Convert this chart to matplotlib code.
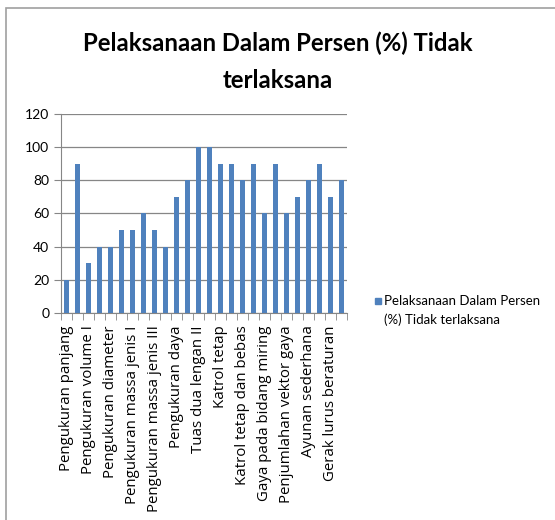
import matplotlib.pyplot as plt
from matplotlib.patches import Rectangle

plt.rcParams['font.family'] = ['Lato', 'DejaVu Sans']

# 26 categories, only every other name is shown on the axis
shown_labels = ["Pengukuran panjang", "Pengukuran volume I", "Pengukuran diameter",
                "Pengukuran massa jenis I", "Pengukuran massa jenis III", "Pengukuran daya",
                "Tuas dua lengan II", "Katrol tetap", "Katrol tetap dan bebas",
                "Gaya pada bidang miring", "Penjumlahan vektor gaya", "Ayunan sederhana",
                "Gerak lurus beraturan"]
values = [20, 90, 30, 40, 40, 50, 50, 60, 50, 40, 70, 80, 100,
          100, 90, 90, 80, 90, 60, 90, 60, 70, 80, 90, 70, 80]
series_name = "Pelaksanaan Dalam Persen\n(%) Tidak terlaksana"
title = "Pelaksanaan Dalam Persen (%) Tidak\nterlaksana"

bar_color = "#4F81BD"
axis_gray = "#868686"

fig = plt.figure(figsize=(5.55, 5.2), dpi=100)
ax = fig.add_axes([0.110, 0.398, 0.515, 0.383])

x = list(range(len(values)))
ax.bar(x, values, width=0.45, color=bar_color, zorder=3)

ax.set_xlim(-0.5, len(values) - 0.5)
ax.set_ylim(0, 120)
ax.set_yticks(range(0, 121, 20))
ax.yaxis.grid(True, color=axis_gray, linewidth=0.9, zorder=0)

ax.set_xticks(x[::2])
ax.set_xticklabels(shown_labels, rotation=90, fontsize=10.8, family=["Open Sans", "DejaVu Sans"])
ax.set_xticks([i - 0.5 for i in range(len(values) + 1)], minor=True)
ax.tick_params(axis="x", which="major", length=0, pad=9)
ax.tick_params(axis="x", which="minor", length=5, color=axis_gray, direction="out")
ax.tick_params(axis="y", length=5, color=axis_gray, labelsize=10)

for side in ["top", "right"]:
    ax.spines[side].set_visible(False)
for side in ["left", "bottom"]:
    ax.spines[side].set_color(axis_gray)

fig.text(0.5, 0.94, title, ha="center", va="top", fontsize=17.2,
         fontweight="bold", linespacing=1.75)

# legend: square marker aligned with the first text line
fig.patches.append(Rectangle((375 / 555, 1 - 304 / 520), 6 / 555, 6 / 520,
                             transform=fig.transFigure, color=bar_color))
fig.text(384 / 555, 1 - 295 / 520, series_name, ha="left", va="top",
         fontsize=9.5, linespacing=1.6)

# outer chart border
fig.patches.append(Rectangle((6 / 555, -0.1), 1.2, (520 - 8) / 520 + 0.1,
                             transform=fig.transFigure, fill=False,
                             edgecolor="#A0A0A0", linewidth=1.2))

fig.savefig("out.png", dpi=100)
